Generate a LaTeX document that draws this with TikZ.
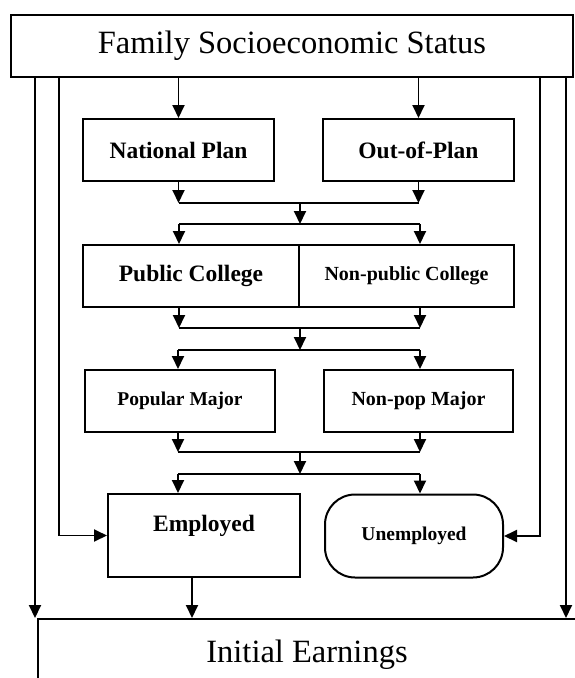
\documentclass[tikz,border=0pt]{standalone}
\usepackage{fontspec}
\setmainfont{Liberation Serif}
\usetikzlibrary{arrows.meta}
\begin{document}
\begin{tikzpicture}[x=1pt,y=-1pt,
  box/.style={draw, line width=2pt, inner sep=0pt, minimum height=62pt},
  conn/.style={line width=1.9pt, -{Triangle[width=12pt,length=13pt]}},
  plain/.style={line width=1.9pt},
  big/.style={font=\fontsize{32.5}{32.5}\selectfont},
  lblA/.style={font=\bfseries\fontsize{23.5}{23.5}\selectfont},
  lblB/.style={font=\bfseries\fontsize{20}{20}\selectfont},
  lblC/.style={font=\bfseries\fontsize{19.5}{19.5}\selectfont}]
\useasboundingbox (0,0) rectangle (575,678);
\clip (0,0) rectangle (575,678);

% nodes
\node[box, big, minimum width=562pt] (fses) at (292,46) {Family Socioeconomic Status};
\node[box, lblA, minimum width=191pt] (np) at (178.5,150) {National Plan};
\node[box, lblA, minimum width=191pt] (op) at (418.5,150) {Out-of-Plan};
\node[box, lblA, minimum width=216pt] (pub) at (191,276) {Public College};
\node[box, lblB, minimum width=215pt] (npub) at (406.5,276) {Non-public College};
\node[box, lblC, minimum width=190pt] (pop) at (180,401) {Popular Major};
\node[box, lblB, minimum width=189pt] (npop) at (418.5,401) {Non-pop Major};
\node[box, minimum width=192pt, minimum height=83pt] (emp) at (204,535.5) {};
\node[lblA] (emptxt) at (204,526) {Employed};
\node[box, lblC, minimum width=178pt, minimum height=83pt, rounded corners=30pt] (unemp) at (414,536) {Unemployed};
\node[box, anchor=north west, minimum width=600pt, minimum height=100pt] (earn) at (37,618) {};
\node[big] (earntxt) at (307,655) {Initial Earnings};

% level 1
\coordinate (m1) at (300,203);
\coordinate (s1) at (300,224);
\coordinate (s1l) at (179,224);
\coordinate (s1r) at (420,224);
\draw[conn] (fses.south -| np.north) -- (np.north);
\draw[conn] (fses.south -| op.north) -- (op.north);
\draw[conn] (np.south) -- (np.south |- m1);
\draw[conn] (op.south) -- (op.south |- m1);
\draw[plain] (np.south |- m1) -- (op.south |- m1);
\draw[conn] (m1) -- (s1);
\draw[plain] (s1l) -- (s1r);
\draw[conn] (s1l) -- (s1l |- pub.north);
\draw[conn] (s1r) -- (s1r |- npub.north);

% level 2
\coordinate (m2) at (300,328);
\coordinate (s2) at (300,350);
\coordinate (s2l) at (178,350);
\coordinate (s2r) at (420,350);
\draw[conn] (s1l |- pub.south) -- (s1l |- m2);
\draw[conn] (s1r |- npub.south) -- (s1r |- m2);
\draw[plain] (s1l |- m2) -- (s1r |- m2);
\draw[conn] (m2) -- (s2);
\draw[plain] (s2l) -- (s2r);
\draw[conn] (s2l) -- (s2l |- pop.north);
\draw[conn] (s2r) -- (s2r |- npop.north);

% level 3
\coordinate (m3) at (300,452);
\coordinate (s3) at (300,474);
\coordinate (s3l) at (178,474);
\coordinate (s3r) at (420,474);
\draw[conn] (s2l |- pop.south) -- (s2l |- m3);
\draw[conn] (s2r |- npop.south) -- (s2r |- m3);
\draw[plain] (s2l |- m3) -- (s2r |- m3);
\draw[conn] (m3) -- (s3);
\draw[plain] (s3l) -- (s3r);
\draw[conn] (s3l) -- (s3l |- emp.north);
\draw[conn] (s3r) -- (s3r |- unemp.north);

% employed to earnings
\draw[conn] ([xshift=-12pt]emp.south) -- ([xshift=-12pt]emp.south |- earn.north);

% side paths
\draw[conn] ([xshift=25pt]fses.south west) -- ([xshift=25pt]fses.south west |- earn.north);
\draw[conn] ([xshift=49pt]fses.south west) |- (emp.west);
\draw[conn] ([xshift=-34pt]fses.south east) |- (unemp.east);
\draw[conn] ([xshift=-8pt]fses.south east) -- ([xshift=-8pt]fses.south east |- earn.north);
\end{tikzpicture}
\end{document}
